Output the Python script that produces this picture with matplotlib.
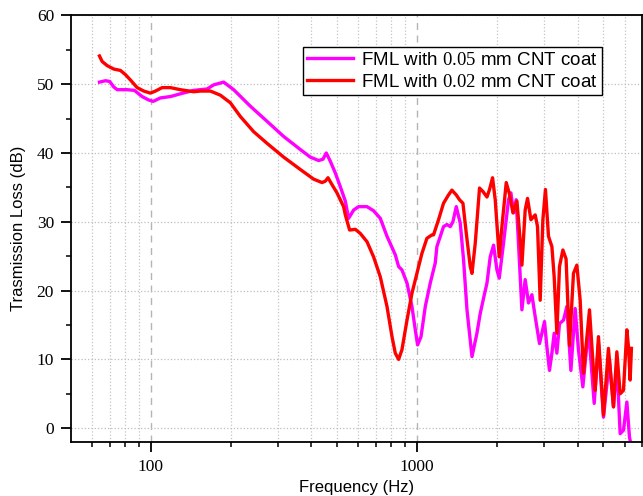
import numpy as np
import matplotlib.pyplot as plt
from matplotlib.ticker import MultipleLocator, NullFormatter

params = {
    "font.family": "Liberation Sans",
    "mathtext.fontset": "custom",
    "mathtext.rm": "Liberation Serif",
    "axes.linewidth": 1.3,
}
plt.rcParams.update(params)

# transmission loss, FML with 0.05 mm CNT coat
freq_05 = [64.1, 67.5, 70.0, 72.5, 74.7, 81.4, 86.7, 92.7, 98.1, 102, 108.5, 118.4,
           129, 144.7, 162.5, 172, 187.6, 204.5, 236.2, 272.9, 315, 363.9, 396.7,
           426.3, 442.8, 455.5, 471.5, 492.3, 514.1, 536.9, 552.4, 576.8, 602.2,
           647.6, 685.5, 726.4, 769.6, 827, 851, 876, 915, 955, 983, 1003, 1033,
           1072, 1119, 1168, 1185, 1255, 1293, 1330, 1361, 1401, 1450, 1492, 1537,
           1605, 1675, 1724, 1774, 1827, 1879, 1934, 1991, 2031, 2108, 2201, 2247,
           2298, 2352, 2399, 2471, 2542, 2616, 2694, 2772, 2877, 2937, 3004, 3067,
           3136, 3202, 3266, 3343, 3420, 3540, 3645, 3774, 3916, 4029, 4185, 4394,
           4616, 4790, 5002, 5268, 5453, 5615, 5778, 5945, 6123, 6261, 6353]
tl_05 = [50.3, 50.5, 50.4, 49.6, 49.2, 49.2, 49.1, 48.2, 47.7, 47.5, 48.0, 48.2,
         48.6, 49.1, 49.3, 49.9, 50.3, 49.2, 46.8, 44.6, 42.4, 40.5, 39.4,
         38.9, 39.1, 40.0, 38.8, 37.1, 35.1, 33.0, 30.5, 31.7, 32.2,
         32.2, 31.6, 30.5, 27.9, 25.2, 23.5, 23.0, 21.1, 17.7, 14.3, 12.1, 13.3,
         17.7, 21.1, 24.0, 26.4, 29.3, 29.6, 29.3, 30.0, 32.2, 29.8, 24.5, 17.2,
         10.4, 13.8, 16.7, 18.9, 21.1, 24.9, 26.6, 23.0, 21.8, 26.9, 33.2, 34.2,
         31.3, 33.2, 26.9, 17.2, 21.6, 18.2, 19.4, 16.2, 12.3, 13.8, 15.5, 11.8,
         8.4, 10.9, 13.8, 10.9, 15.2, 15.7, 17.7, 8.4, 17.4, 11.4, 6.0, 14.5,
         3.6, 12.3, 1.6, 9.9, 3.1, 9.4, -0.8, -0.3, 3.8, -1.3, -2.5]

# transmission loss, FML with 0.02 mm CNT coat
freq_02 = [64.1, 65.6, 68.5, 72.5, 76.8, 80.2, 83.8, 88.8, 94.0, 99.6, 104, 110.2,
           118.4, 129, 144.7, 153.4, 167.2, 182.3, 198.7, 216.7, 243.0, 272.9, 315,
           363.9, 408.2, 438.9, 451.6, 462.3, 478.5, 499.6, 529, 536.9, 557.2,
           585.4, 611.2, 647.6, 685.5, 726.4, 769.6, 803.9, 827, 851, 876, 915,
           955, 997, 1041, 1087, 1136, 1151, 1202, 1255, 1310, 1349, 1401, 1441,
           1484, 1527, 1581, 1605, 1651, 1713, 1764, 1827, 1868, 1917, 1962, 2031,
           2079, 2158, 2220, 2287, 2367, 2421, 2471, 2542, 2594, 2671, 2772, 2828,
           2894, 2962, 3029, 3109, 3202, 3266, 3343, 3420, 3521, 3620, 3729, 3859,
           3974, 4089, 4207, 4432, 4587, 4655, 4790, 5002, 5221, 5453, 5615, 5778,
           5945, 6123, 6208, 6299, 6369]
tl_02 = [54.1, 53.3, 52.7, 52.2, 52.0, 51.4, 50.6, 49.5, 49.0, 48.7, 49.0, 49.5,
         49.5, 49.2, 48.9, 49.0, 49.0, 48.4, 47.3, 45.3, 43.1, 41.4, 39.4,
         37.6, 36.2, 35.7, 35.9, 36.4, 35.4, 34.2, 32.2, 31.0, 28.8,
         28.9, 28.3, 27.1, 24.9, 22.0, 17.7, 13.3, 10.9, 10.0, 11.4, 15.7,
         19.6, 22.5, 25.4, 27.6, 28.1, 28.1, 30.3, 32.7, 33.9, 34.6, 33.9, 33.2,
         32.7, 28.4, 23.5, 22.5, 26.9, 34.9, 34.4, 33.6, 34.7, 36.4, 33.2, 24.9,
         29.3, 35.7, 34.0, 31.3, 33.0, 28.4, 23.7, 31.7, 33.4, 30.3, 31.0, 29.3,
         18.6, 30.3, 34.7, 27.9, 26.4, 22.0, 13.8, 23.5, 25.9, 24.6, 12.0, 22.5,
         23.7, 18.6, 8.0, 17.2, 8.4, 5.5, 13.3, 1.9, 11.6, 3.1, 11.1, 5.0,
         5.5, 14.3, 11.8, 7.0, 11.6]

labels = ["FML with $\\mathrm{0.05}$ mm CNT coat", "FML with $\\mathrm{0.02}$ mm CNT coat"]

fig = plt.figure(figsize=(6.43, 4.96), dpi=100)
ax = fig.add_axes([0.110, 0.109, 0.889, 0.860])

ax.plot(freq_05, tl_05, color="#ff00ff", lw=2.4, label=labels[0])
ax.plot(freq_02, tl_02, color="#ff0000", lw=2.4, label=labels[1])

ax.set_xscale("log")
ax.set_xlim(50, 7000)
ax.set_ylim(-2, 60)

ax.set_xticks([100, 1000])
ax.set_xticklabels(["100", "1000"])
minors = [60, 70, 80, 90] + list(range(200, 1000, 100)) + list(range(2000, 8000, 1000))
ax.set_xticks(minors, minor=True)
ax.xaxis.set_minor_formatter(NullFormatter())
ax.yaxis.set_major_locator(MultipleLocator(10))
ax.yaxis.set_minor_locator(MultipleLocator(5))

ax.tick_params(which="major", direction="out", length=7, width=1.3, pad=5)
ax.tick_params(which="minor", direction="out", length=3.5, width=1.1)
for lab in ax.get_xticklabels() + ax.get_yticklabels():
    lab.set_fontfamily("Liberation Serif")
    lab.set_fontsize(12.5)

ax.grid(axis="y", which="major", ls=":", color="#bdbdbd", lw=0.9)
ax.grid(axis="x", which="major", ls=(0, (5, 4)), color="#b4b4b4", lw=1.0)
ax.grid(axis="x", which="minor", ls=":", color="#c4c4c4", lw=0.9)
ax.set_axisbelow(True)

ax.set_xlabel("Frequency (Hz)", fontsize=12, labelpad=4)
ax.set_ylabel("Trasmission Loss (dB)", fontsize=12, labelpad=8)

leg = ax.legend(loc="upper right", bbox_to_anchor=(0.930, 0.926), borderaxespad=0,
                fontsize=13.5, handlelength=2.45, handletextpad=0.4, labelspacing=0.25,
                borderpad=0.25, fancybox=False, framealpha=1, edgecolor="black")
leg.get_frame().set_linewidth(1.0)

plt.savefig("out.png")
